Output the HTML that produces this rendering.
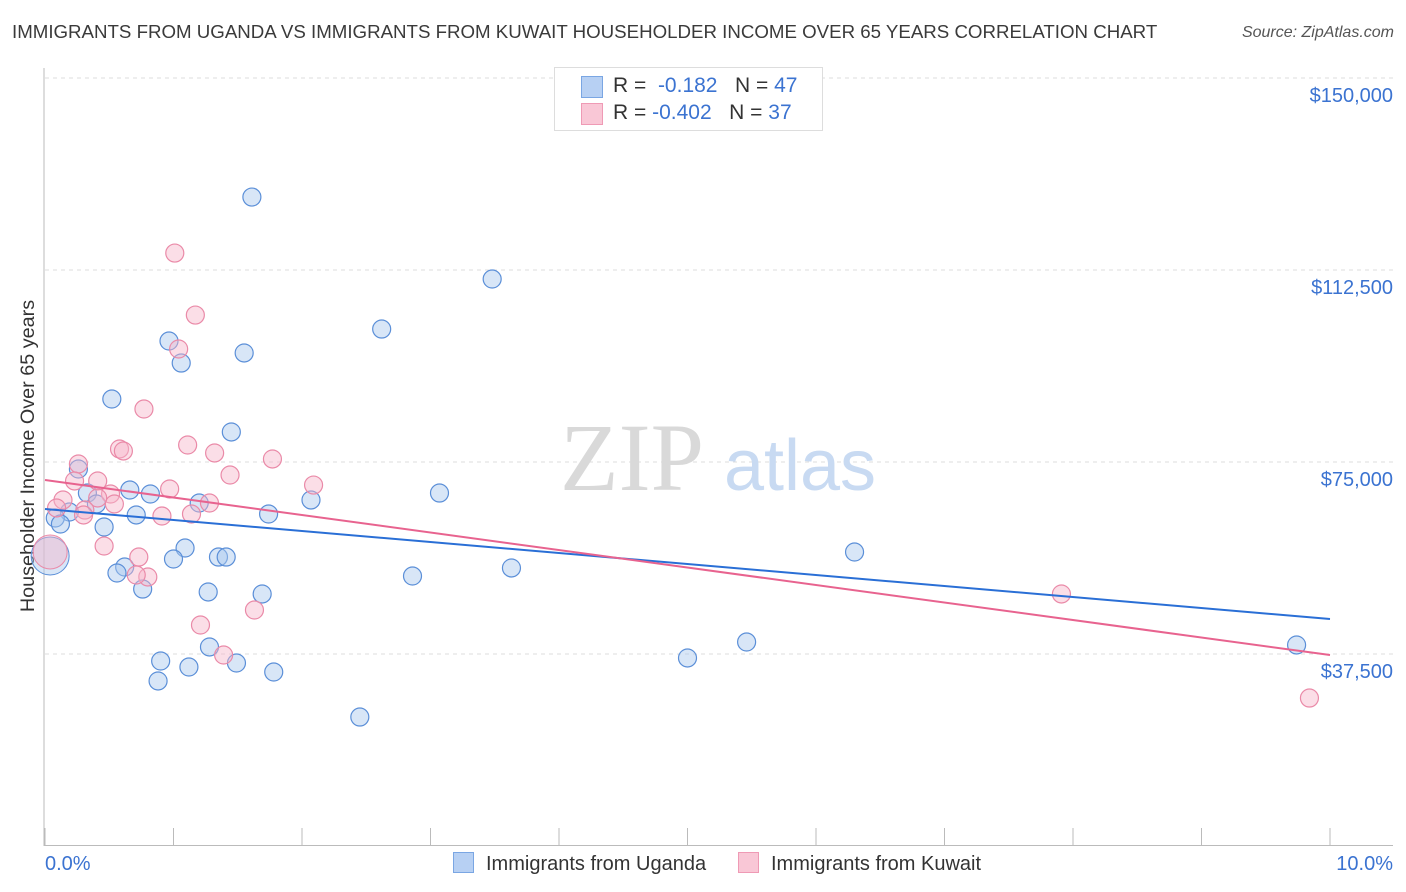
<!DOCTYPE html>
<html><head><meta charset="utf-8"><style>
body{margin:0;background:#fff;font-family:"Liberation Sans",sans-serif;}
#wrap{position:relative;width:1406px;height:892px;overflow:hidden}
.t{position:absolute;white-space:nowrap}
</style></head><body><div id="wrap">
<div class="t" style="left:12px;top:21px;font-size:18.7px;color:#3a3a3a">IMMIGRANTS FROM UGANDA VS IMMIGRANTS FROM KUWAIT HOUSEHOLDER INCOME OVER 65 YEARS CORRELATION CHART</div>
<div class="t" style="right:12px;top:24px;font-size:16px;color:#555;font-style:italic">Source: ZipAtlas.com</div>
<svg id="plot" width="1406" height="892" style="position:absolute;left:0;top:0"></svg>
</div>
<script>
const categories=["Immigrants from Uganda","Immigrants from Kuwait"];
const yTicks=[37500,75000,112500,150000];
const yTickLabels=["$37,500","$75,000","$112,500","$150,000"];
const xTickLabels=["0.0%","10.0%"];
const ugandaX=[1.61,3.48,2.62,0.965,1.55,1.06,0.52,1.45,0.26,0.66,0.82,0.33,3.07,2.07,1.20,0.40,0.19,1.74,0.71,0.08,0.12,0.46,1.09,6.30,1.35,1.41,1.00,0.62,3.63,0.56,2.86,0.76,1.27,1.69,5.46,1.28,9.74,5.00,0.90,1.49,1.12,1.78,0.88,2.45];
const ugandaY=[126750,110740,100970,98630,96290,94330,87300,80860,73630,69530,68750,68940,68940,67580,66990,66800,65230,64840,64650,64060,62890,62300,58200,57420,56440,56440,56050,54490,54300,53320,52730,50190,49610,49220,39840,38870,39260,36720,36130,35740,34960,33980,32230,25190];
const kuwaitX=[1.01,1.17,1.04,0.77,1.11,0.58,0.61,1.32,1.77,0.26,1.44,2.09,0.23,0.41,0.97,0.14,0.51,0.54,1.28,0.41,0.09,0.31,0.30,0.91,1.14,0.46,0.73,0.80,0.71,1.63,1.21,1.39,7.91,9.84];
const kuwaitY=[115810,103700,97070,85350,78320,77540,77150,76760,75590,74610,72460,70500,71290,71290,69730,67580,68750,66800,66990,67970,66020,65620,64650,64450,64840,58590,56440,52540,52930,46090,43160,37300,49220,28900];
const bigX=[0.04,0.04], bigY=[56640,57420];
const trendU=[65820,44330], trendK=[71480,37300];
const X=v=>45+v/10*1285, Y=v=>846-v/37500*192;
const svg=document.getElementById('plot');const NS="http://www.w3.org/2000/svg";
function el(tag,a){const e=document.createElementNS(NS,tag);for(const k in a)e.setAttribute(k,a[k]);svg.appendChild(e);return e;}
yTicks.forEach((v,i)=>{
 const g=el('line',{x1:45,x2:1393,y1:Y(v),y2:Y(v),stroke:'#ddd','stroke-dasharray':'4,4'});
 
 
 const t=el('text',{x:1393,y:Y(v)+24,'text-anchor':'end','font-size':20,fill:'#3b73d1','font-family':'Liberation Sans'});
 t.textContent=yTickLabels[i];
 
 
});
const ax=el('line',{x1:44,x2:44,y1:68,y2:846,stroke:'#bbb'});


const bx=el('line',{x1:44,x2:1393,y1:845.5,y2:845.5,stroke:'#bbb'});


for(let i=0;i<=10;i++){const tk=el('line',{x1:X(i),x2:X(i),y1:828,y2:846,stroke:'#bbb'});
 
 }
[[45,'start'],[1393,'end']].forEach((p,i)=>{const t=el('text',{x:p[0],y:870,'text-anchor':p[1],'font-size':20,fill:'#3b73d1','font-family':'Liberation Sans'});t.textContent=xTickLabels[i];
 
 });
const yt=el('text',{x:0,y:0,transform:'translate(34,456) rotate(-90)','text-anchor':'middle','font-size':19.8,fill:'#333','font-family':'Liberation Sans'});yt.textContent='Householder Income Over 65 years';


const w1=el('text',{x:632,y:490,'text-anchor':'middle','font-size':96,fill:'#d9d9d9','font-family':'Liberation Serif'});w1.textContent='ZIP';


const w2=el('text',{x:800,y:490,'text-anchor':'middle','font-size':72,fill:'#c8daf2','font-family':'Liberation Sans'});w2.textContent='atlas';


function dots(xs,ys,fill,stroke,name,r){xs.forEach((x,i)=>{const c=el('circle',{cx:X(x),cy:Y(ys[i]),r:r,fill:fill,stroke:stroke,'stroke-width':1.2,'fill-opacity':0.45});
 
 });}
dots(ugandaX,ugandaY,'#a9c7ee','#5b8fd8','uganda-point',9);
dots(kuwaitX,kuwaitY,'#f7b6c9','#ea8aa8','kuwait-point',9);
const b1=el('circle',{cx:X(bigX[0]),cy:Y(bigY[0]),r:19,fill:'#a9c7ee',stroke:'#5b8fd8','fill-opacity':0.45});


const b2=el('circle',{cx:X(bigX[1]),cy:Y(bigY[1]),r:17,fill:'#f7b6c9',stroke:'#ea8aa8','fill-opacity':0.45});


const l1=el('line',{x1:X(0),x2:X(10),y1:Y(trendU[0]),y2:Y(trendU[1]),stroke:'#2a6fd6','stroke-width':2});


const l2=el('line',{x1:X(0),x2:X(10),y1:Y(trendK[0]),y2:Y(trendK[1]),stroke:'#e8638f','stroke-width':2});


</script>
<div class="t" style="left:554px;top:67px;width:267px;height:62px;border:1px solid #ddd;background:#fff;font-size:21px;color:#333">
 <div style="position:absolute;left:26px;top:8px;width:20px;height:20px;background:#b7d0f3;border:1px solid #7aa6e3"></div>
 <div class="t" style="left:58px;top:6px">R = &nbsp;<span style="color:#3b73d1">-0.182</span> &nbsp; N = <span style="color:#3b73d1">47</span></div>
 <div style="position:absolute;left:26px;top:35px;width:20px;height:20px;background:#f9c7d6;border:1px solid #ef9ab5"></div>
 <div class="t" style="left:58px;top:33px">R = <span style="color:#3b73d1">-0.402</span> &nbsp; N = <span style="color:#3b73d1">37</span></div>
</div>
<div class="t" style="left:453px;top:852px;font-size:20px;color:#333"><span style="display:inline-block;width:19px;height:19px;background:#b7d0f3;border:1px solid #7aa6e3;vertical-align:-3px;margin-right:12px"></span>Immigrants from Uganda</div>
<div class="t" style="left:738px;top:852px;font-size:20px;color:#333"><span style="display:inline-block;width:19px;height:19px;background:#f9c7d6;border:1px solid #ef9ab5;vertical-align:-3px;margin-right:12px"></span>Immigrants from Kuwait</div>
</body></html>
